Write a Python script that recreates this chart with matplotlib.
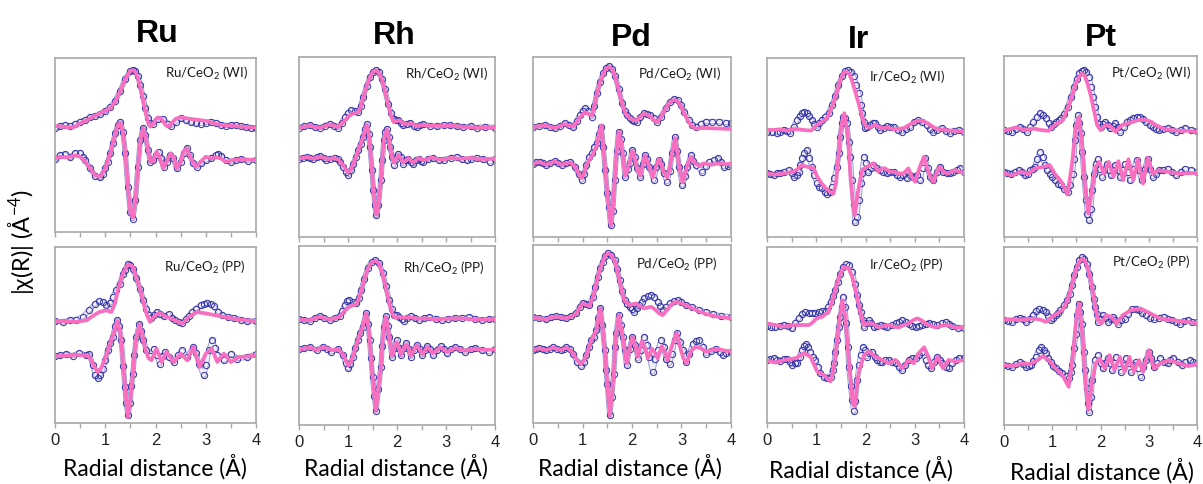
import matplotlib
matplotlib.use("Agg")
import matplotlib.pyplot as plt
from matplotlib.ticker import MultipleLocator

plt.rcParams['mathtext.default'] = 'regular'

# ---------------- data: (R [Å], value [arb.]) ----------------
# Ru / CeO2 (WI)
ru_wi_mag_exp = [(0,0),(0.1,0.06),(0.2,0.10),(0.3,0.06),(0.4,0.12),(0.5,0.20),(0.6,0.25),(0.7,0.33),(0.8,0.37),(0.9,0.43),(1.0,0.52),(1.1,0.64),(1.2,0.82),(1.3,1.12),(1.4,1.48),(1.5,1.72),(1.55,1.75),(1.6,1.70),(1.65,1.55),(1.7,1.28),(1.75,0.95),(1.8,0.60),(1.85,0.30),(1.9,0.15),(1.95,0.14),(2.05,0.28),(2.15,0.28),(2.25,0.12),(2.3,0.07),(2.4,0.20),(2.5,0.30),(2.6,0.26),(2.7,0.19),(2.8,0.16),(2.9,0.14),(3.0,0.17),(3.1,0.20),(3.2,0.17),(3.3,0.11),(3.4,0.08),(3.5,0.09),(3.6,0.10),(3.7,0.07),(3.8,0.04),(3.9,0.02),(4.0,0.0)]
ru_wi_mag_fit = [(0,0.07),(0.15,0.05),(0.3,0.02),(0.4,0.05),(0.5,0.15),(0.6,0.22),(0.7,0.30),(0.8,0.38),(0.9,0.45),(1.0,0.52),(1.1,0.60),(1.2,0.80),(1.3,1.12),(1.4,1.48),(1.5,1.72),(1.55,1.74),(1.6,1.68),(1.65,1.50),(1.7,1.20),(1.75,0.85),(1.8,0.50),(1.85,0.18),(1.9,0.05),(1.95,0.12),(2.0,0.25),(2.05,0.32),(2.1,0.30),(2.15,0.22),(2.2,0.10),(2.25,0.05),(2.3,0.12),(2.4,0.28),(2.5,0.33),(2.6,0.30),(2.8,0.26),(3.0,0.22),(3.1,0.18),(3.2,0.13),(3.3,0.10),(3.5,0.08),(3.7,0.05),(3.9,0.03),(4.0,0.02)]
ru_wi_re_exp = [(0,0.02),(0.1,0.14),(0.2,0.17),(0.3,0.08),(0.4,0.20),(0.5,0.22),(0.55,0.10),(0.6,0.0),(0.7,-0.25),(0.8,-0.47),(0.9,-0.52),(0.95,-0.42),(1.0,-0.25),(1.05,-0.05),(1.1,0.20),(1.15,0.50),(1.2,0.80),(1.25,1.05),(1.3,1.15),(1.35,0.85),(1.4,0.20),(1.45,-0.80),(1.5,-1.55),(1.55,-1.75),(1.6,-1.20),(1.65,-0.20),(1.7,0.60),(1.75,0.95),(1.8,0.75),(1.85,0.30),(1.9,-0.05),(1.96,0.0),(2.01,0.15),(2.06,0.25),(2.11,0.05),(2.16,-0.20),(2.22,-0.05),(2.29,0.15),(2.35,0.05),(2.42,-0.25),(2.5,-0.05),(2.56,0.20),(2.62,0.35),(2.68,0.15),(2.75,-0.10),(2.82,-0.20),(2.9,-0.10),(3.0,0.0),(3.1,0.05),(3.2,0.15),(3.25,0.18),(3.3,0.12),(3.4,0.0),(3.5,-0.05),(3.6,0.0),(3.7,0.02),(3.85,-0.02),(4.0,0.0)]
ru_wi_re_fit = [(0,0.05),(0.1,0.10),(0.2,0.08),(0.3,0.10),(0.4,0.14),(0.5,0.10),(0.6,-0.05),(0.7,-0.25),(0.8,-0.45),(0.9,-0.50),(1.0,-0.25),(1.1,0.20),(1.2,0.80),(1.25,1.05),(1.3,1.12),(1.35,0.85),(1.4,0.20),(1.45,-0.80),(1.5,-1.55),(1.55,-1.72),(1.6,-1.20),(1.65,-0.20),(1.7,0.60),(1.75,0.95),(1.8,0.72),(1.85,0.30),(1.9,-0.05),(1.95,-0.05),(2.02,0.25),(2.08,0.10),(2.15,-0.25),(2.22,-0.05),(2.3,0.20),(2.36,0.10),(2.42,-0.25),(2.5,-0.05),(2.56,0.25),(2.62,0.35),(2.7,0.05),(2.8,-0.20),(2.9,-0.05),(3.0,0.10),(3.1,0.05),(3.2,0.08),(3.3,0.05),(3.4,-0.05),(3.55,0.0),(3.7,0.02),(4.0,0.0)]

# Ru / CeO2 (PP)
ru_pp_mag_exp = [(0,0),(0.15,-0.03),(0.3,0.02),(0.42,0.04),(0.55,0.12),(0.68,0.32),(0.8,0.52),(0.88,0.60),(0.95,0.58),(1.02,0.47),(1.1,0.55),(1.15,0.72),(1.22,0.92),(1.29,1.12),(1.35,1.40),(1.39,1.52),(1.45,1.72),(1.5,1.68),(1.55,1.57),(1.62,1.30),(1.69,0.97),(1.76,0.62),(1.82,0.37),(1.87,0.18),(1.92,0.10),(1.97,0.18),(2.02,0.27),(2.09,0.20),(2.16,0.14),(2.26,0.20),(2.33,0.10),(2.39,0.04),(2.46,-0.03),(2.53,-0.06),(2.6,0.05),(2.66,0.15),(2.73,0.27),(2.8,0.37),(2.9,0.47),(2.97,0.52),(3.03,0.54),(3.1,0.50),(3.16,0.44),(3.25,0.28),(3.33,0.17),(3.45,0.12),(3.56,0.10),(3.7,0.04),(3.83,0.0),(4.0,0.0)]
ru_pp_mag_fit = [(0,0),(0.2,0.0),(0.42,-0.03),(0.52,0.0),(0.63,0.02),(0.75,0.15),(0.88,0.27),(1.02,0.32),(1.12,0.27),(1.2,0.55),(1.25,0.92),(1.35,1.42),(1.45,1.70),(1.5,1.68),(1.55,1.62),(1.62,1.30),(1.69,0.97),(1.76,0.55),(1.82,0.22),(1.89,-0.03),(1.99,0.17),(2.09,0.24),(2.19,0.14),(2.36,0.04),(2.53,-0.08),(2.66,0.12),(2.83,0.27),(3.03,0.22),(3.3,0.14),(3.56,0.07),(3.8,0.02),(4.0,0.0)]
ru_pp_re_exp = [(0,0),(0.1,0.03),(0.21,0.06),(0.35,0.02),(0.48,0.10),(0.62,0.03),(0.68,0.06),(0.75,-0.25),(0.8,-0.55),(0.85,-0.65),(0.9,-0.55),(0.95,-0.37),(1.0,-0.12),(1.05,0.18),(1.1,0.40),(1.15,0.58),(1.2,0.90),(1.24,1.08),(1.28,0.90),(1.32,0.48),(1.36,-0.30),(1.39,-0.92),(1.42,-1.40),(1.45,-1.77),(1.49,-1.40),(1.52,-0.90),(1.55,-0.52),(1.58,0.05),(1.62,0.58),(1.68,0.96),(1.72,0.75),(1.76,0.48),(1.82,0.18),(1.89,0.0),(1.97,0.23),(2.03,0.05),(2.08,-0.22),(2.14,0.0),(2.19,0.13),(2.26,-0.02),(2.36,-0.17),(2.45,0.05),(2.53,0.18),(2.63,-0.02),(2.75,0.28),(2.81,0.10),(2.86,-0.22),(2.96,-0.57),(3.01,-0.25),(3.06,0.18),(3.13,0.48),(3.18,0.25),(3.23,0.03),(3.36,-0.12),(3.5,0.08),(3.63,-0.07),(3.83,-0.02),(4.0,0.06)]
ru_pp_re_fit = [(0,0),(0.2,0.02),(0.4,0.05),(0.55,0.03),(0.68,0.0),(0.78,-0.3),(0.85,-0.47),(0.92,-0.35),(1.0,-0.05),(1.1,0.40),(1.18,0.75),(1.24,1.06),(1.3,0.70),(1.36,-0.30),(1.41,-1.20),(1.45,-1.82),(1.49,-1.40),(1.55,-0.52),(1.6,0.40),(1.68,0.96),(1.74,0.62),(1.8,0.20),(1.86,-0.05),(1.92,-0.12),(2.02,0.23),(2.12,-0.17),(2.22,0.13),(2.36,-0.17),(2.5,0.08),(2.63,-0.12),(2.75,0.28),(2.88,-0.32),(3.0,0.08),(3.12,0.23),(3.23,-0.17),(3.36,0.08),(3.5,-0.17),(3.66,-0.02),(3.85,0.0),(4.0,0.03)]

# Rh / CeO2 (WI)
rh_wi_mag_exp = [(0,0),(0.1,0.04),(0.22,0.07),(0.32,0.02),(0.43,0.0),(0.53,0.06),(0.63,0.12),(0.72,0.06),(0.8,0.0),(0.87,0.15),(0.94,0.32),(1.0,0.45),(1.07,0.52),(1.14,0.50),(1.21,0.47),(1.26,0.65),(1.31,0.92),(1.38,1.25),(1.45,1.52),(1.51,1.68),(1.57,1.74),(1.63,1.66),(1.69,1.47),(1.75,1.15),(1.82,0.72),(1.88,0.45),(1.93,0.27),(1.98,0.22),(2.03,0.24),(2.08,0.15),(2.13,0.07),(2.2,0.12),(2.27,0.14),(2.34,0.06),(2.4,0.02),(2.47,0.07),(2.54,0.10),(2.68,0.06),(2.81,0.04),(2.95,0.08),(3.08,0.07),(3.22,0.04),(3.35,0.02),(3.5,0.04),(3.63,0.0),(3.8,0.03),(4.0,0.0)]
rh_wi_mag_fit = [(0,0.0),(0.1,0.03),(0.22,0.06),(0.32,0.02),(0.43,0.0),(0.53,0.05),(0.63,0.10),(0.72,0.05),(0.8,0.02),(0.87,0.12),(0.94,0.22),(1.0,0.32),(1.07,0.40),(1.14,0.44),(1.21,0.47),(1.26,0.62),(1.31,0.90),(1.38,1.25),(1.45,1.52),(1.51,1.68),(1.57,1.72),(1.63,1.64),(1.69,1.45),(1.75,1.12),(1.82,0.68),(1.88,0.35),(1.93,0.17),(2.0,0.20),(2.05,0.22),(2.13,0.13),(2.2,0.10),(2.3,0.12),(2.4,0.05),(2.55,0.08),(2.7,0.06),(2.9,0.05),(3.1,0.06),(3.3,0.03),(3.6,0.01),(4.0,0.0)]
rh_wi_re_exp = [(0,0),(0.08,0.03),(0.16,0.05),(0.22,0.02),(0.29,0.0),(0.36,0.04),(0.43,0.07),(0.5,0.02),(0.56,-0.03),(0.64,0.0),(0.73,0.03),(0.79,-0.02),(0.84,-0.10),(0.9,-0.25),(0.96,-0.40),(1.01,-0.48),(1.06,-0.35),(1.11,-0.15),(1.16,0.05),(1.21,0.25),(1.26,0.45),(1.31,0.65),(1.35,0.90),(1.38,1.05),(1.42,0.75),(1.45,0.35),(1.49,-0.35),(1.52,-0.95),(1.55,-1.40),(1.58,-1.70),(1.62,-1.40),(1.67,-0.65),(1.7,-0.05),(1.73,0.55),(1.76,0.80),(1.79,0.90),(1.83,0.65),(1.86,0.35),(1.9,0.05),(1.93,-0.20),(1.98,-0.02),(2.03,0.15),(2.08,0.05),(2.13,-0.15),(2.18,-0.05),(2.23,0.0),(2.28,-0.10),(2.33,-0.17),(2.39,-0.05),(2.44,0.0),(2.49,-0.08),(2.54,-0.10),(2.64,0.0),(2.74,0.02),(2.85,-0.05),(2.95,-0.03),(3.1,0.03),(3.22,0.05),(3.32,-0.02),(3.42,-0.05),(3.52,0.0),(3.63,0.03),(3.75,-0.02),(3.9,-0.10),(4.0,0.0)]
rh_wi_re_fit = [(0,0),(0.1,0.03),(0.2,0.04),(0.29,0.0),(0.4,0.05),(0.5,0.03),(0.6,-0.02),(0.7,0.02),(0.8,-0.02),(0.9,-0.20),(1.0,-0.42),(1.06,-0.32),(1.11,-0.15),(1.21,0.25),(1.31,0.65),(1.38,1.02),(1.42,0.75),(1.45,0.35),(1.49,-0.35),(1.52,-0.95),(1.55,-1.40),(1.58,-1.68),(1.62,-1.40),(1.67,-0.65),(1.7,-0.05),(1.73,0.55),(1.79,0.88),(1.83,0.65),(1.86,0.35),(1.9,0.02),(1.94,-0.12),(2.03,0.12),(2.13,-0.12),(2.23,0.02),(2.33,-0.12),(2.44,0.02),(2.54,-0.05),(2.7,0.03),(2.9,-0.03),(3.1,0.02),(3.3,0.0),(3.5,0.02),(3.7,-0.01),(4.0,0.0)]

# Rh / CeO2 (PP)
rh_pp_mag_exp = [(0,0),(0.1,-0.02),(0.22,-0.04),(0.32,0.04),(0.42,0.10),(0.52,0.04),(0.63,-0.02),(0.73,0.04),(0.83,0.10),(0.88,0.25),(0.93,0.43),(0.98,0.55),(1.03,0.58),(1.1,0.53),(1.17,0.48),(1.22,0.65),(1.27,0.88),(1.33,1.20),(1.4,1.53),(1.48,1.72),(1.56,1.78),(1.63,1.70),(1.71,1.38),(1.77,1.00),(1.84,0.58),(1.89,0.30),(1.94,0.13),(2.0,0.12),(2.04,0.08),(2.1,0.0),(2.14,-0.04),(2.2,0.05),(2.28,0.10),(2.36,0.03),(2.45,-0.02),(2.55,0.03),(2.65,0.06),(2.8,0.02),(2.92,-0.02),(3.05,0.02),(3.19,0.03),(3.33,0.05),(3.46,0.06),(3.6,0.02),(3.73,-0.02),(3.87,0.0),(4.0,0.0)]
rh_pp_mag_fit = [(0,0),(0.1,-0.02),(0.22,-0.03),(0.32,0.03),(0.42,0.08),(0.52,0.03),(0.63,0.0),(0.73,0.03),(0.83,0.08),(0.93,0.25),(1.03,0.38),(1.1,0.42),(1.17,0.45),(1.22,0.62),(1.27,0.85),(1.33,1.18),(1.4,1.50),(1.48,1.70),(1.56,1.76),(1.63,1.68),(1.71,1.35),(1.77,0.95),(1.84,0.50),(1.9,0.18),(1.96,0.05),(2.04,0.08),(2.14,0.05),(2.25,0.07),(2.4,0.02),(2.6,0.03),(2.8,0.0),(3.0,0.02),(3.3,0.03),(3.6,0.0),(4.0,0.0)]
rh_pp_re_exp = [(0,0),(0.1,0.03),(0.22,0.06),(0.36,-0.02),(0.49,0.08),(0.58,0.02),(0.66,-0.07),(0.8,0.0),(0.9,-0.17),(0.95,-0.40),(1.0,-0.57),(1.05,-0.45),(1.1,-0.22),(1.15,0.05),(1.2,0.28),(1.25,0.48),(1.3,0.68),(1.37,1.10),(1.41,0.75),(1.44,0.28),(1.47,-0.25),(1.5,-0.82),(1.54,-1.40),(1.57,-1.84),(1.62,-1.20),(1.67,-0.52),(1.7,0.10),(1.73,0.68),(1.77,1.00),(1.81,0.70),(1.84,0.38),(1.9,-0.22),(1.95,0.05),(1.99,0.28),(2.04,0.05),(2.08,-0.17),(2.14,0.05),(2.19,0.18),(2.24,0.0),(2.28,-0.22),(2.34,-0.02),(2.4,0.13),(2.46,0.0),(2.52,-0.17),(2.57,-0.02),(2.62,0.10),(2.68,0.0),(2.73,-0.17),(2.81,-0.02),(2.89,0.10),(2.96,0.02),(3.02,-0.12),(3.1,0.0),(3.19,0.06),(3.29,0.0),(3.39,-0.07),(3.5,0.0),(3.6,0.03),(3.73,-0.02),(3.87,-0.07),(4.0,0.0)]
rh_pp_re_fit = [(0,0),(0.1,0.02),(0.22,0.05),(0.36,-0.01),(0.49,0.06),(0.6,0.02),(0.7,-0.03),(0.8,0.0),(0.9,-0.15),(1.0,-0.48),(1.05,-0.40),(1.1,-0.20),(1.2,0.28),(1.3,0.68),(1.37,1.08),(1.41,0.75),(1.44,0.28),(1.47,-0.25),(1.5,-0.82),(1.54,-1.40),(1.57,-1.84),(1.62,-1.20),(1.67,-0.52),(1.7,0.10),(1.73,0.68),(1.77,0.98),(1.81,0.70),(1.84,0.38),(1.9,-0.20),(1.95,0.05),(1.99,0.22),(2.04,0.05),(2.08,-0.17),(2.14,0.05),(2.19,0.15),(2.24,0.0),(2.28,-0.20),(2.34,-0.02),(2.4,0.12),(2.46,0.0),(2.52,-0.15),(2.62,0.08),(2.73,-0.12),(2.89,0.06),(3.02,-0.08),(3.19,0.04),(3.39,-0.04),(3.6,0.02),(3.8,-0.02),(4.0,0.0)]

# Pd / CeO2 (WI)
pd_wi_mag_exp = [(0,0),(0.12,0.04),(0.24,0.07),(0.34,0.02),(0.44,-0.03),(0.54,0.04),(0.64,0.12),(0.72,0.06),(0.81,0.0),(0.88,0.18),(0.95,0.37),(1.0,0.50),(1.05,0.57),(1.12,0.48),(1.19,0.32),(1.24,0.65),(1.29,1.02),(1.35,1.35),(1.42,1.62),(1.48,1.78),(1.54,1.82),(1.6,1.75),(1.66,1.52),(1.73,1.15),(1.8,0.72),(1.85,0.50),(1.9,0.37),(1.95,0.28),(2.0,0.22),(2.05,0.19),(2.1,0.17),(2.17,0.30),(2.24,0.42),(2.3,0.40),(2.37,0.37),(2.44,0.27),(2.51,0.17),(2.58,0.30),(2.68,0.57),(2.76,0.75),(2.85,0.84),(2.92,0.80),(2.98,0.67),(3.06,0.45),(3.15,0.22),(3.22,0.08),(3.29,0.0),(3.39,0.10),(3.49,0.17),(3.62,0.17),(3.76,0.17),(3.9,0.14),(4.0,0.12)]
pd_wi_mag_fit = [(0,0),(0.12,0.03),(0.24,0.05),(0.34,0.02),(0.44,-0.02),(0.54,0.03),(0.64,0.10),(0.72,0.05),(0.81,0.02),(0.88,0.15),(0.95,0.30),(1.05,0.45),(1.12,0.40),(1.19,0.35),(1.24,0.65),(1.29,1.00),(1.35,1.33),(1.42,1.60),(1.48,1.76),(1.54,1.80),(1.6,1.74),(1.66,1.50),(1.73,1.12),(1.8,0.70),(1.87,0.40),(1.95,0.28),(2.03,0.22),(2.1,0.20),(2.17,0.32),(2.24,0.40),(2.3,0.38),(2.37,0.32),(2.44,0.22),(2.51,0.15),(2.58,0.30),(2.68,0.57),(2.76,0.75),(2.85,0.82),(2.92,0.78),(2.98,0.65),(3.06,0.40),(3.15,0.15),(3.22,0.02),(3.3,-0.04),(3.45,-0.02),(3.6,-0.03),(3.8,-0.04),(4.0,-0.05)]
pd_wi_re_exp = [(0,0),(0.07,0.05),(0.14,0.07),(0.2,0.02),(0.27,-0.03),(0.35,0.03),(0.44,0.10),(0.51,0.03),(0.58,-0.03),(0.66,0.02),(0.75,0.07),(0.85,-0.08),(0.92,-0.30),(0.98,-0.48),(1.03,-0.30),(1.08,-0.03),(1.14,0.20),(1.19,0.32),(1.24,0.50),(1.29,0.62),(1.33,0.90),(1.38,1.12),(1.42,0.50),(1.46,-0.18),(1.5,-0.85),(1.53,-1.28),(1.57,-1.83),(1.61,-1.40),(1.65,-0.48),(1.69,0.40),(1.73,0.97),(1.77,0.75),(1.81,0.32),(1.86,-0.38),(1.91,-0.15),(1.95,0.02),(2.01,0.42),(2.06,0.20),(2.1,-0.13),(2.17,-0.38),(2.22,0.0),(2.26,0.27),(2.3,0.15),(2.35,-0.08),(2.44,-0.48),(2.49,-0.10),(2.54,0.12),(2.59,0.0),(2.64,-0.28),(2.71,-0.53),(2.76,-0.20),(2.81,0.32),(2.87,0.82),(2.91,0.40),(2.95,-0.08),(3.02,-0.63),(3.07,-0.35),(3.12,-0.08),(3.19,0.27),(3.24,0.10),(3.29,-0.03),(3.42,-0.23),(3.5,-0.05),(3.56,0.07),(3.65,0.12),(3.73,0.17),(3.8,0.05),(3.86,-0.08),(3.93,-0.05),(4.0,-0.02)]
pd_wi_re_fit = [(0,0),(0.07,0.04),(0.14,0.06),(0.2,0.02),(0.27,-0.02),(0.35,0.03),(0.44,0.08),(0.51,0.03),(0.58,-0.02),(0.66,0.02),(0.75,0.05),(0.85,-0.08),(0.92,-0.28),(0.98,-0.42),(1.03,-0.28),(1.08,-0.03),(1.19,0.25),(1.29,0.55),(1.33,0.90),(1.38,1.15),(1.42,0.50),(1.46,-0.18),(1.5,-0.85),(1.53,-1.28),(1.57,-1.83),(1.61,-1.40),(1.65,-0.48),(1.69,0.40),(1.73,0.97),(1.77,0.75),(1.81,0.32),(1.86,-0.35),(1.91,-0.15),(1.95,0.05),(2.01,0.40),(2.06,0.15),(2.1,-0.15),(2.17,-0.35),(2.22,0.0),(2.26,0.25),(2.3,0.12),(2.35,-0.10),(2.42,-0.40),(2.49,-0.05),(2.54,0.15),(2.59,0.0),(2.64,-0.25),(2.71,-0.40),(2.76,-0.15),(2.81,0.32),(2.87,0.78),(2.91,0.40),(2.95,-0.05),(3.02,-0.55),(3.07,-0.30),(3.12,-0.02),(3.19,0.22),(3.26,0.05),(3.35,-0.05),(3.45,0.02),(3.6,-0.02),(3.75,0.02),(3.9,0.0),(4.0,0.0)]

# Pd / CeO2 (PP)
pd_pp_mag_exp = [(0,0),(0.13,-0.02),(0.27,-0.06),(0.37,0.0),(0.47,0.04),(0.57,0.0),(0.67,-0.03),(0.77,0.04),(0.87,0.12),(0.94,0.30),(1.0,0.44),(1.07,0.40),(1.14,0.37),(1.21,0.62),(1.26,0.90),(1.31,1.22),(1.36,1.48),(1.41,1.67),(1.46,1.85),(1.51,1.94),(1.58,1.88),(1.65,1.72),(1.7,1.45),(1.75,1.12),(1.8,0.78),(1.85,0.52),(1.9,0.40),(1.95,0.32),(2.0,0.25),(2.05,0.17),(2.1,0.27),(2.15,0.37),(2.2,0.47),(2.25,0.57),(2.32,0.64),(2.39,0.67),(2.45,0.60),(2.52,0.47),(2.57,0.35),(2.62,0.22),(2.69,0.32),(2.76,0.42),(2.84,0.48),(2.92,0.52),(3.0,0.45),(3.09,0.37),(3.22,0.30),(3.36,0.22),(3.5,0.16),(3.63,0.10),(3.8,0.05),(4.0,0.02)]
pd_pp_mag_fit = [(0,0.0),(0.13,-0.03),(0.27,-0.05),(0.37,0.0),(0.47,0.03),(0.57,0.0),(0.67,-0.03),(0.77,0.03),(0.87,0.10),(0.94,0.28),(1.0,0.42),(1.07,0.38),(1.14,0.34),(1.21,0.60),(1.26,0.90),(1.31,1.22),(1.36,1.48),(1.41,1.67),(1.46,1.85),(1.51,1.92),(1.58,1.87),(1.65,1.70),(1.7,1.42),(1.75,1.10),(1.8,0.75),(1.85,0.50),(1.95,0.37),(2.02,0.40),(2.08,0.42),(2.15,0.35),(2.25,0.27),(2.32,0.30),(2.39,0.32),(2.48,0.22),(2.55,0.12),(2.62,0.07),(2.7,0.20),(2.8,0.40),(2.89,0.47),(3.0,0.42),(3.09,0.37),(3.22,0.27),(3.36,0.18),(3.51,0.10),(3.7,0.03),(3.85,0.0),(4.0,-0.03)]
pd_pp_re_exp = [(0,0),(0.07,0.05),(0.13,0.08),(0.2,0.03),(0.27,0.0),(0.34,0.05),(0.4,0.10),(0.48,0.05),(0.57,0.0),(0.62,0.05),(0.67,0.10),(0.74,0.03),(0.81,-0.10),(0.89,-0.35),(0.97,-0.48),(1.03,-0.35),(1.08,-0.15),(1.13,0.10),(1.18,0.30),(1.23,0.40),(1.28,0.60),(1.32,0.95),(1.36,1.25),(1.4,0.75),(1.45,0.0),(1.48,-0.60),(1.5,-1.00),(1.55,-1.95),(1.59,-1.40),(1.63,-0.70),(1.66,0.10),(1.68,0.50),(1.73,1.05),(1.77,0.75),(1.81,0.40),(1.85,0.0),(1.89,-0.45),(1.95,0.05),(2.01,0.40),(2.07,0.15),(2.12,-0.25),(2.18,0.0),(2.25,0.40),(2.3,0.15),(2.35,-0.20),(2.42,-0.65),(2.47,-0.25),(2.52,0.0),(2.59,0.30),(2.64,0.10),(2.69,-0.25),(2.76,-0.40),(2.81,-0.10),(2.86,0.30),(2.9,0.50),(2.96,0.25),(3.03,0.0),(3.09,-0.35),(3.16,-0.10),(3.23,0.20),(3.3,0.28),(3.36,0.30),(3.43,0.10),(3.5,-0.10),(3.6,-0.02),(3.7,0.05),(3.77,-0.05),(3.83,-0.15),(3.9,-0.08),(4.0,-0.05)]
pd_pp_re_fit = [(0,0),(0.07,0.04),(0.13,0.06),(0.2,0.02),(0.27,0.0),(0.34,0.04),(0.4,0.08),(0.48,0.04),(0.57,0.0),(0.67,0.08),(0.74,0.02),(0.81,-0.10),(0.89,-0.30),(0.97,-0.42),(1.03,-0.30),(1.08,-0.15),(1.18,0.30),(1.28,0.60),(1.32,0.95),(1.36,1.25),(1.4,0.75),(1.45,0.0),(1.48,-0.60),(1.5,-1.00),(1.55,-1.95),(1.59,-1.40),(1.63,-0.70),(1.66,0.10),(1.68,0.50),(1.73,1.05),(1.77,0.75),(1.81,0.40),(1.85,0.0),(1.89,-0.40),(1.95,0.05),(2.01,0.40),(2.07,0.10),(2.12,-0.20),(2.2,0.28),(2.27,0.05),(2.32,-0.25),(2.4,0.05),(2.45,-0.05),(2.52,-0.25),(2.6,0.12),(2.66,-0.05),(2.72,-0.30),(2.8,0.10),(2.9,0.52),(2.97,0.10),(3.04,-0.25),(3.1,-0.38),(3.2,0.0),(3.3,0.10),(3.4,0.05),(3.5,-0.05),(3.6,0.0),(3.75,0.03),(3.9,-0.02),(4.0,-0.03)]

# Ir / CeO2 (WI)
ir_wi_mag_exp = [(0,0),(0.1,-0.02),(0.2,-0.03),(0.27,0.0),(0.34,0.05),(0.4,0.02),(0.47,-0.03),(0.54,0.15),(0.61,0.35),(0.66,0.47),(0.71,0.55),(0.76,0.58),(0.81,0.57),(0.86,0.48),(0.91,0.35),(0.96,0.22),(1.01,0.15),(1.06,0.25),(1.11,0.35),(1.18,0.45),(1.25,0.55),(1.32,0.80),(1.39,1.05),(1.45,1.38),(1.52,1.65),(1.58,1.80),(1.64,1.85),(1.7,1.78),(1.76,1.65),(1.81,1.40),(1.86,1.15),(1.9,0.80),(1.93,0.55),(1.96,0.30),(1.99,0.10),(2.04,0.15),(2.09,0.20),(2.15,0.25),(2.2,0.27),(2.25,0.15),(2.3,0.05),(2.37,0.12),(2.43,0.17),(2.5,0.15),(2.57,0.13),(2.65,0.05),(2.74,0.0),(2.82,0.08),(2.91,0.15),(2.99,0.28),(3.07,0.35),(3.15,0.30),(3.24,0.20),(3.31,0.08),(3.38,0.0),(3.46,0.06),(3.55,0.10),(3.63,0.03),(3.72,-0.03),(3.8,0.02),(3.89,0.05),(4.0,-0.01)]
ir_wi_mag_fit = [(0,0.05),(0.13,0.05),(0.27,0.07),(0.4,0.03),(0.54,0.08),(0.68,0.06),(0.8,0.04),(0.9,0.03),(1.01,0.20),(1.12,0.30),(1.22,0.40),(1.35,0.85),(1.42,1.20),(1.49,1.55),(1.55,1.74),(1.61,1.80),(1.67,1.72),(1.72,1.55),(1.79,1.20),(1.86,0.85),(1.93,0.45),(1.99,0.20),(2.04,0.14),(2.09,0.13),(2.2,0.20),(2.33,0.10),(2.45,0.12),(2.57,0.07),(2.77,0.10),(2.94,0.25),(3.05,0.32),(3.14,0.33),(3.22,0.28),(3.31,0.20),(3.42,0.10),(3.51,0.07),(3.65,0.04),(3.8,0.03),(4.0,0.0)]
ir_wi_re_exp = [(0,0),(0.07,-0.02),(0.14,-0.05),(0.2,0.0),(0.27,0.02),(0.35,0.05),(0.44,0.10),(0.5,0.02),(0.54,-0.10),(0.6,-0.05),(0.64,0.05),(0.68,0.25),(0.71,0.45),(0.76,0.62),(0.81,0.70),(0.86,0.45),(0.91,0.20),(0.96,-0.05),(1.01,-0.30),(1.06,-0.40),(1.11,-0.45),(1.17,-0.55),(1.22,-0.60),(1.27,-0.55),(1.32,-0.40),(1.37,-0.15),(1.42,0.20),(1.46,0.60),(1.49,1.10),(1.52,1.50),(1.55,1.70),(1.58,1.65),(1.62,1.50),(1.66,0.95),(1.69,0.50),(1.72,-0.20),(1.76,-0.90),(1.79,-1.45),(1.82,-1.30),(1.86,-0.80),(1.9,-0.30),(1.93,0.0),(1.97,0.50),(2.01,0.30),(2.06,0.05),(2.11,0.15),(2.16,0.25),(2.23,0.15),(2.3,0.10),(2.36,0.05),(2.43,0.0),(2.5,0.05),(2.57,0.05),(2.63,-0.05),(2.7,-0.10),(2.77,-0.05),(2.84,-0.15),(2.9,-0.05),(2.97,-0.10),(3.04,-0.05),(3.11,-0.20),(3.16,0.15),(3.21,0.45),(3.26,0.15),(3.31,-0.10),(3.38,-0.20),(3.45,0.05),(3.51,0.20),(3.58,0.05),(3.65,0.0),(3.72,0.02),(3.78,0.05),(3.85,0.10),(3.92,0.15),(4.0,0.05)]
ir_wi_re_fit = [(0,0),(0.14,-0.03),(0.27,-0.02),(0.4,0.02),(0.54,0.05),(0.64,0.15),(0.71,0.25),(0.76,0.22),(0.81,0.20),(0.88,0.18),(0.95,0.15),(1.02,-0.10),(1.11,-0.30),(1.2,-0.45),(1.28,-0.55),(1.35,-0.60),(1.4,-0.30),(1.45,0.50),(1.49,1.20),(1.52,1.50),(1.57,1.80),(1.6,1.50),(1.64,1.20),(1.67,0.50),(1.7,-0.20),(1.74,-0.80),(1.78,-1.25),(1.81,-1.00),(1.84,-0.60),(1.88,-0.30),(1.93,0.10),(1.98,0.15),(2.03,0.20),(2.1,0.25),(2.16,0.30),(2.26,0.05),(2.33,0.15),(2.4,0.15),(2.5,0.05),(2.57,0.05),(2.67,0.0),(2.77,0.0),(2.87,0.15),(2.94,-0.10),(3.01,-0.25),(3.07,0.05),(3.13,0.30),(3.19,0.50),(3.24,0.20),(3.28,0.05),(3.33,-0.15),(3.38,-0.25),(3.45,0.05),(3.51,0.20),(3.58,0.05),(3.65,0.0),(3.75,0.05),(3.82,0.10),(3.9,0.05),(4.0,0.02)]

# Ir / CeO2 (PP)
ir_pp_mag_exp = [(0,0.02),(0.09,0.0),(0.17,-0.02),(0.26,0.02),(0.34,0.05),(0.42,0.02),(0.51,-0.05),(0.57,0.10),(0.64,0.25),(0.71,0.38),(0.78,0.45),(0.85,0.42),(0.92,0.40),(0.98,0.42),(1.05,0.45),(1.12,0.46),(1.19,0.48),(1.24,0.60),(1.29,0.75),(1.34,0.92),(1.39,1.10),(1.44,1.35),(1.49,1.60),(1.55,1.80),(1.61,1.90),(1.67,1.85),(1.73,1.65),(1.78,1.30),(1.83,0.95),(1.87,0.65),(1.9,0.45),(1.94,0.20),(1.97,0.0),(2.02,0.12),(2.07,0.20),(2.12,0.10),(2.17,-0.02),(2.24,0.03),(2.31,0.05),(2.38,0.02),(2.44,-0.02),(2.53,0.05),(2.61,0.10),(2.68,0.15),(2.75,0.20),(2.82,0.15),(2.88,0.08),(2.95,0.02),(3.02,-0.02),(3.09,0.02),(3.15,0.05),(3.22,0.08),(3.29,0.10),(3.38,0.08),(3.46,0.05),(3.55,0.10),(3.63,0.15),(3.7,0.08),(3.76,0.02),(3.88,-0.03),(4.0,-0.05)]
ir_pp_mag_fit = [(0,0.10),(0.17,0.05),(0.34,0.0),(0.51,0.05),(0.71,0.05),(0.85,0.05),(0.92,0.12),(0.98,0.22),(1.05,0.27),(1.12,0.30),(1.25,0.45),(1.33,0.80),(1.42,1.30),(1.49,1.60),(1.56,1.80),(1.66,1.75),(1.73,1.50),(1.8,1.10),(1.85,0.75),(1.9,0.40),(1.97,0.05),(2.03,0.08),(2.1,0.12),(2.2,0.05),(2.27,-0.02),(2.37,0.02),(2.47,0.05),(2.58,0.0),(2.68,-0.02),(2.78,0.05),(2.88,0.10),(2.97,0.20),(3.05,0.25),(3.13,0.20),(3.22,0.10),(3.32,0.03),(3.42,-0.02),(3.52,0.02),(3.63,0.05),(3.73,0.02),(3.83,-0.02),(4.0,-0.02)]
ir_pp_re_exp = [(0,0),(0.07,0.03),(0.14,0.05),(0.2,0.0),(0.27,-0.02),(0.34,0.02),(0.41,0.02),(0.46,-0.05),(0.51,-0.15),(0.56,-0.10),(0.61,-0.10),(0.66,0.10),(0.71,0.30),(0.75,0.42),(0.79,0.48),(0.84,0.40),(0.88,0.25),(0.93,0.10),(0.98,0.0),(1.03,-0.20),(1.08,-0.40),(1.15,-0.50),(1.22,-0.55),(1.29,-0.50),(1.33,-0.30),(1.36,-0.10),(1.39,0.25),(1.42,0.60),(1.46,1.00),(1.49,1.30),(1.52,1.60),(1.55,1.90),(1.58,1.60),(1.61,1.10),(1.64,0.40),(1.66,-0.20),(1.7,-0.80),(1.73,-1.20),(1.76,-1.55),(1.79,-1.25),(1.83,-0.60),(1.87,-0.15),(1.9,0.15),(1.95,0.38),(1.99,0.30),(2.03,0.10),(2.08,0.20),(2.14,0.25),(2.19,0.10),(2.24,0.0),(2.29,-0.05),(2.34,-0.05),(2.4,0.0),(2.47,0.0),(2.54,-0.05),(2.61,-0.10),(2.68,-0.20),(2.75,-0.30),(2.81,-0.15),(2.88,0.0),(2.95,0.05),(3.02,0.05),(3.09,0.15),(3.15,0.25),(3.22,0.0),(3.27,-0.15),(3.32,-0.25),(3.39,-0.05),(3.46,0.10),(3.51,0.0),(3.56,-0.10),(3.63,-0.20),(3.69,-0.25),(3.76,-0.10),(3.83,0.0),(3.9,0.05),(4.0,0.05)]
ir_pp_re_fit = [(0,-0.02),(0.17,-0.08),(0.37,0.0),(0.58,0.05),(0.75,0.20),(0.88,0.10),(1.02,-0.35),(1.15,-0.45),(1.29,-0.65),(1.34,-0.35),(1.39,0.10),(1.46,1.10),(1.53,1.80),(1.59,1.30),(1.66,0.0),(1.74,-1.30),(1.78,-1.40),(1.86,-0.40),(1.97,0.15),(2.07,0.25),(2.2,0.10),(2.34,0.0),(2.47,-0.10),(2.61,0.0),(2.75,-0.25),(2.88,0.0),(2.98,-0.10),(3.08,0.20),(3.19,0.38),(3.29,0.05),(3.35,-0.25),(3.47,0.10),(3.57,-0.25),(3.69,0.0),(3.83,-0.05),(4.0,0.0)]

# Pt / CeO2 (WI)
pt_wi_mag_exp = [(0,0.02),(0.08,0.0),(0.17,-0.03),(0.25,0.04),(0.34,0.10),(0.4,0.05),(0.47,-0.03),(0.54,0.12),(0.61,0.27),(0.68,0.42),(0.75,0.52),(0.81,0.47),(0.88,0.37),(0.93,0.22),(0.98,0.12),(1.03,0.20),(1.08,0.27),(1.14,0.32),(1.19,0.37),(1.25,0.50),(1.32,0.72),(1.39,1.00),(1.46,1.32),(1.51,1.55),(1.56,1.72),(1.61,1.80),(1.65,1.82),(1.7,1.75),(1.76,1.62),(1.81,1.30),(1.85,1.02),(1.89,0.72),(1.93,0.42),(1.97,0.20),(2.0,0.10),(2.05,0.20),(2.1,0.27),(2.15,0.18),(2.2,0.07),(2.26,0.15),(2.31,0.22),(2.36,0.10),(2.41,-0.03),(2.48,0.12),(2.54,0.27),(2.61,0.33),(2.68,0.37),(2.75,0.40),(2.81,0.40),(2.88,0.35),(2.95,0.27),(3.02,0.18),(3.08,0.12),(3.15,0.06),(3.22,0.02),(3.3,0.05),(3.39,0.07),(3.48,0.02),(3.56,-0.03),(3.66,0.03),(3.76,0.07),(3.88,0.02),(4.0,0.0)]
pt_wi_mag_fit = [(0,0.0),(0.24,0.10),(0.44,0.02),(0.61,0.07),(0.78,0.02),(0.92,0.0),(1.05,0.17),(1.22,0.32),(1.36,0.82),(1.49,1.42),(1.56,1.62),(1.61,1.72),(1.67,1.65),(1.73,1.42),(1.8,1.05),(1.85,0.72),(1.93,0.17),(2.0,0.02),(2.1,0.17),(2.2,0.14),(2.31,-0.03),(2.44,0.17),(2.61,0.24),(2.78,0.32),(2.95,0.32),(3.05,0.27),(3.15,0.17),(3.25,0.10),(3.36,0.04),(3.5,0.02),(3.63,0.0),(3.8,0.0),(4.0,-0.03)]
pt_wi_re_exp = [(0,0.0),(0.07,-0.02),(0.14,-0.05),(0.22,0.0),(0.31,0.05),(0.37,0.0),(0.44,-0.10),(0.49,-0.05),(0.54,0.05),(0.6,0.10),(0.64,0.15),(0.69,0.40),(0.75,0.60),(0.8,0.45),(0.85,0.20),(0.9,0.05),(0.95,-0.05),(1.0,-0.15),(1.05,-0.25),(1.12,-0.35),(1.19,-0.40),(1.25,-0.50),(1.32,-0.60),(1.37,-0.40),(1.42,-0.05),(1.45,0.40),(1.47,0.95),(1.5,1.40),(1.53,1.70),(1.56,1.45),(1.59,1.15),(1.62,0.60),(1.66,-0.15),(1.7,-0.85),(1.73,-1.25),(1.76,-1.45),(1.8,-1.10),(1.83,-0.55),(1.87,-0.05),(1.9,0.25),(1.95,0.40),(1.99,0.10),(2.03,-0.15),(2.08,0.05),(2.14,0.25),(2.18,0.05),(2.22,-0.10),(2.27,0.05),(2.31,0.20),(2.36,0.05),(2.41,-0.15),(2.46,0.05),(2.51,0.25),(2.57,0.0),(2.62,-0.25),(2.69,0.10),(2.75,0.35),(2.8,0.05),(2.85,-0.25),(2.92,0.10),(2.98,0.40),(3.03,0.10),(3.08,-0.15),(3.15,-0.05),(3.22,0.05),(3.3,0.05),(3.39,0.10),(3.48,0.0),(3.56,-0.10),(3.66,0.0),(3.76,0.10),(3.88,0.05),(4.0,0.0)]
pt_wi_re_fit = [(0,-0.05),(0.17,-0.10),(0.34,0.0),(0.51,-0.05),(0.64,0.10),(0.81,0.15),(0.95,0.20),(1.05,-0.05),(1.19,-0.30),(1.32,-0.67),(1.42,0.35),(1.49,1.35),(1.55,1.65),(1.61,0.95),(1.68,-0.45),(1.75,-1.25),(1.83,-0.45),(1.9,0.15),(1.97,0.30),(2.07,-0.05),(2.17,0.30),(2.27,-0.15),(2.37,0.32),(2.47,-0.25),(2.58,0.38),(2.68,-0.25),(2.78,0.38),(2.88,-0.35),(2.98,0.42),(3.08,-0.05),(3.2,0.05),(3.4,0.0),(3.63,-0.05),(4.0,-0.03)]

# Pt / CeO2 (PP)
pt_pp_mag_exp = [(0,0.0),(0.08,-0.02),(0.16,-0.05),(0.25,0.03),(0.33,0.08),(0.4,0.03),(0.46,-0.05),(0.53,0.05),(0.6,0.15),(0.66,0.28),(0.73,0.35),(0.8,0.32),(0.87,0.25),(0.92,0.12),(0.97,0.0),(1.02,0.08),(1.07,0.15),(1.12,0.22),(1.17,0.30),(1.24,0.45),(1.31,0.60),(1.36,0.80),(1.41,1.05),(1.46,1.35),(1.51,1.60),(1.56,1.80),(1.61,1.90),(1.66,1.85),(1.72,1.70),(1.77,1.40),(1.82,1.00),(1.86,0.65),(1.89,0.40),(1.92,0.20),(1.95,-0.05),(2.0,0.05),(2.05,0.15),(2.1,0.08),(2.16,-0.05),(2.21,0.05),(2.26,0.10),(2.31,0.02),(2.36,-0.10),(2.43,0.0),(2.5,0.05),(2.58,0.20),(2.66,0.35),(2.73,0.33),(2.8,0.30),(2.87,0.22),(2.94,0.15),(3.02,0.08),(3.11,0.05),(3.21,0.08),(3.31,0.10),(3.4,0.05),(3.48,0.0),(3.56,-0.05),(3.65,-0.10),(3.73,-0.02),(3.82,0.0),(3.9,-0.05),(4.0,-0.05)]
pt_pp_mag_fit = [(0,0.02),(0.15,0.03),(0.33,0.0),(0.47,0.03),(0.6,0.05),(0.75,0.02),(0.87,-0.05),(0.95,0.05),(1.04,0.15),(1.12,0.22),(1.21,0.30),(1.3,0.55),(1.38,0.90),(1.45,1.30),(1.51,1.60),(1.57,1.78),(1.63,1.85),(1.69,1.75),(1.75,1.50),(1.81,1.10),(1.87,0.60),(1.91,0.25),(1.95,0.0),(2.02,-0.10),(2.12,0.15),(2.23,0.10),(2.33,-0.10),(2.46,0.15),(2.63,0.30),(2.83,0.35),(3.04,0.20),(3.24,0.05),(3.51,0.0),(3.75,-0.05),(4.0,-0.08)]
pt_pp_re_exp = [(0,0.0),(0.08,-0.02),(0.16,-0.05),(0.25,0.03),(0.33,0.10),(0.4,0.03),(0.46,-0.05),(0.51,-0.02),(0.56,0.0),(0.61,0.12),(0.66,0.25),(0.72,0.45),(0.77,0.53),(0.82,0.45),(0.87,0.35),(0.92,0.20),(0.97,0.10),(1.02,-0.02),(1.07,-0.10),(1.14,-0.18),(1.21,-0.25),(1.28,-0.32),(1.34,-0.40),(1.38,-0.20),(1.41,0.0),(1.45,0.50),(1.49,0.95),(1.52,1.50),(1.55,1.85),(1.58,1.60),(1.61,1.25),(1.65,0.40),(1.68,-0.15),(1.71,-0.70),(1.74,-1.15),(1.76,-1.40),(1.8,-0.95),(1.83,-0.45),(1.88,0.15),(1.95,0.30),(2.0,0.05),(2.05,-0.10),(2.1,0.05),(2.16,0.20),(2.2,0.05),(2.24,-0.15),(2.28,0.05),(2.33,0.25),(2.38,0.05),(2.43,-0.20),(2.48,0.0),(2.53,0.20),(2.58,0.05),(2.63,-0.20),(2.68,0.0),(2.73,0.10),(2.78,-0.10),(2.83,-0.35),(2.89,-0.05),(2.94,0.15),(3.0,0.40),(3.05,0.20),(3.11,-0.05),(3.18,0.05),(3.24,0.20),(3.31,0.10),(3.39,0.05),(3.45,0.15),(3.51,0.20),(3.6,0.10),(3.68,0.0),(3.76,0.08),(3.85,0.15),(3.92,0.10),(4.0,0.05)]
pt_pp_re_fit = [(0,0.0),(0.19,-0.03),(0.36,0.05),(0.53,0.03),(0.7,0.15),(0.8,0.27),(0.93,0.15),(1.07,-0.10),(1.21,-0.30),(1.34,-0.65),(1.44,0.45),(1.51,1.55),(1.56,1.85),(1.63,0.85),(1.69,-0.55),(1.75,-1.35),(1.83,-0.45),(1.9,0.05),(1.98,0.20),(2.09,-0.10),(2.19,0.30),(2.29,-0.15),(2.4,0.25),(2.5,-0.20),(2.6,0.25),(2.69,-0.20),(2.8,0.15),(2.88,-0.20),(3.0,0.45),(3.11,-0.10),(3.24,0.05),(3.42,0.15),(3.63,0.05),(3.82,-0.03),(4.0,0.03)]

elements = ["Ru", "Rh", "Pd", "Ir", "Pt"]
methods = ["WI", "PP"]
x_ticks = [0, 1, 2, 3, 4]
x_label = "Radial distance (Å)"
y_label = "|χ(R)| (Å$^{-4}$)"

series = {
    ("Ru", "WI"): (ru_wi_mag_exp, ru_wi_mag_fit, ru_wi_re_exp, ru_wi_re_fit),
    ("Ru", "PP"): (ru_pp_mag_exp, ru_pp_mag_fit, ru_pp_re_exp, ru_pp_re_fit),
    ("Rh", "WI"): (rh_wi_mag_exp, rh_wi_mag_fit, rh_wi_re_exp, rh_wi_re_fit),
    ("Rh", "PP"): (rh_pp_mag_exp, rh_pp_mag_fit, rh_pp_re_exp, rh_pp_re_fit),
    ("Pd", "WI"): (pd_wi_mag_exp, pd_wi_mag_fit, pd_wi_re_exp, pd_wi_re_fit),
    ("Pd", "PP"): (pd_pp_mag_exp, pd_pp_mag_fit, pd_pp_re_exp, pd_pp_re_fit),
    ("Ir", "WI"): (ir_wi_mag_exp, ir_wi_mag_fit, ir_wi_re_exp, ir_wi_re_fit),
    ("Ir", "PP"): (ir_pp_mag_exp, ir_pp_mag_fit, ir_pp_re_exp, ir_pp_re_fit),
    ("Pt", "WI"): (pt_wi_mag_exp, pt_wi_mag_fit, pt_wi_re_exp, pt_wi_re_fit),
    ("Pt", "PP"): (pt_pp_mag_exp, pt_pp_mag_fit, pt_pp_re_exp, pt_pp_re_fit),
}

# ---------------- layout / style ----------------
W, H = 1203, 484
col_x = [(55, 256), (299, 495), (533, 731), (767, 964), (1004, 1197)]
row_y = {"WI": [(58, 232), (57, 237), (57, 237), (58, 237), (56, 237)],
         "PP": [(247, 423), (246, 425), (245, 423), (247, 423), (247, 425)]}
# vertical stacking offsets (magnitude, real part) and y-range top
stack = {("Ru", "WI"): (3.10, 2.15, 5.20), ("Ru", "PP"): (3.06, 2.00, 5.28),
         ("Rh", "WI"): (3.28, 2.35, 5.40), ("Rh", "PP"): (3.17, 2.27, 5.37),
         ("Pd", "WI"): (3.28, 2.18, 5.38), ("Pd", "PP"): (3.16, 2.18, 5.33),
         ("Ir", "WI"): (3.15, 1.90, 5.35), ("Ir", "PP"): (2.90, 1.90, 5.30),
         ("Pt", "WI"): (3.18, 1.95, 5.42), ("Pt", "PP"): (3.15, 1.80, 5.35)}
label_pos = {"WI": [(8, 15), (7, 17), (10, 17), (19, 19), (6, 17)],
             "PP": [(10, 20), (10, 22), (14, 19), (20, 18), (6, 15)]}
title_pos = [(157, 34), (394, 36), (631, 38), (858, 40), (1101, 38)]
xlabel_pos = [(155, 467), (396, 467), (630, 467), (861, 469), (1102, 471)]

EXP_COLOR = "#3838a8"
EXP_INNER = "#f2f2ff"
FIT_COLOR = "#f76fbe"
SPINE = "#a8a8a8"
SANS = ["Lato", "DejaVu Sans"]

fig = plt.figure(figsize=(W / 100, H / 100), dpi=100)


def xy(pairs, offset):
    return [p[0] for p in pairs], [p[1] + offset for p in pairs]


for ci, el in enumerate(elements):
    for mth in methods:
        x0, x1 = col_x[ci]
        y0, y1 = row_y[mth][ci]
        ax = fig.add_axes([x0 / W, (H - y1) / H, (x1 - x0) / W, (y1 - y0) / H])
        mexp, mfit, rexp, rfit = series[(el, mth)]
        moff, roff, ytop = stack[(el, mth)]
        for pairs, off in ((mexp, moff), (rexp, roff)):
            xs, ys = xy(pairs, off)
            # band of overlapping open circles: light hollow tube plus circles
            ax.plot(xs, ys, '-', color=EXP_COLOR, lw=3.8, alpha=0.5,
                    solid_joinstyle='round', zorder=1)
            ax.plot(xs, ys, '-', color=EXP_INNER, lw=2.4,
                    solid_joinstyle='round', zorder=1.5)
            ax.plot(xs, ys, 'o', ms=4.5, mfc='none', mec=EXP_COLOR, mew=0.75, zorder=2)
        for pairs, off in ((mfit, moff), (rfit, roff)):
            xs, ys = xy(pairs, off)
            ax.plot(xs, ys, '-', color=FIT_COLOR, lw=2.7, solid_joinstyle='round',
                    solid_capstyle='round', zorder=3)
        ax.set_xlim(0, 4)
        ax.set_ylim(0, ytop)
        ax.set_yticks([])
        ax.set_xticks(x_ticks)
        ax.xaxis.set_minor_locator(MultipleLocator(0.5))
        ax.tick_params(axis='x', which='both', direction='out', length=3.5,
                       width=1.0, color=SPINE, pad=4)
        for s in ax.spines.values():
            s.set_color(SPINE)
            s.set_linewidth(1.2)
        if mth == "PP":
            ax.set_xticklabels([str(t) for t in x_ticks], fontsize=12,
                               family="Liberation Sans", color="#222222")
        else:
            ax.set_xticklabels([])
        rx, ty = label_pos[mth][ci]
        ax.text(1 - rx / (x1 - x0), 1 - ty / (y1 - y0),
                f"{el}/CeO$_2$ ({mth})", transform=ax.transAxes, ha='right',
                va='center', fontsize=9.5, family=SANS, color="#1a1a1a")

    tx, ty = title_pos[ci]
    fig.text(tx / W, 1 - ty / H, el, ha='center', va='center', fontsize=23,
             fontweight='bold', family="Liberation Sans")
    lx, ly = xlabel_pos[ci]
    fig.text(lx / W, 1 - ly / H, x_label, ha='center', va='center', fontsize=16.5,
             family=SANS)

fig.text(21 / W, 1 - 242 / H, y_label, rotation=90, ha='center', va='center',
         fontsize=17, family=SANS)

fig.savefig("out.png", dpi=100)
